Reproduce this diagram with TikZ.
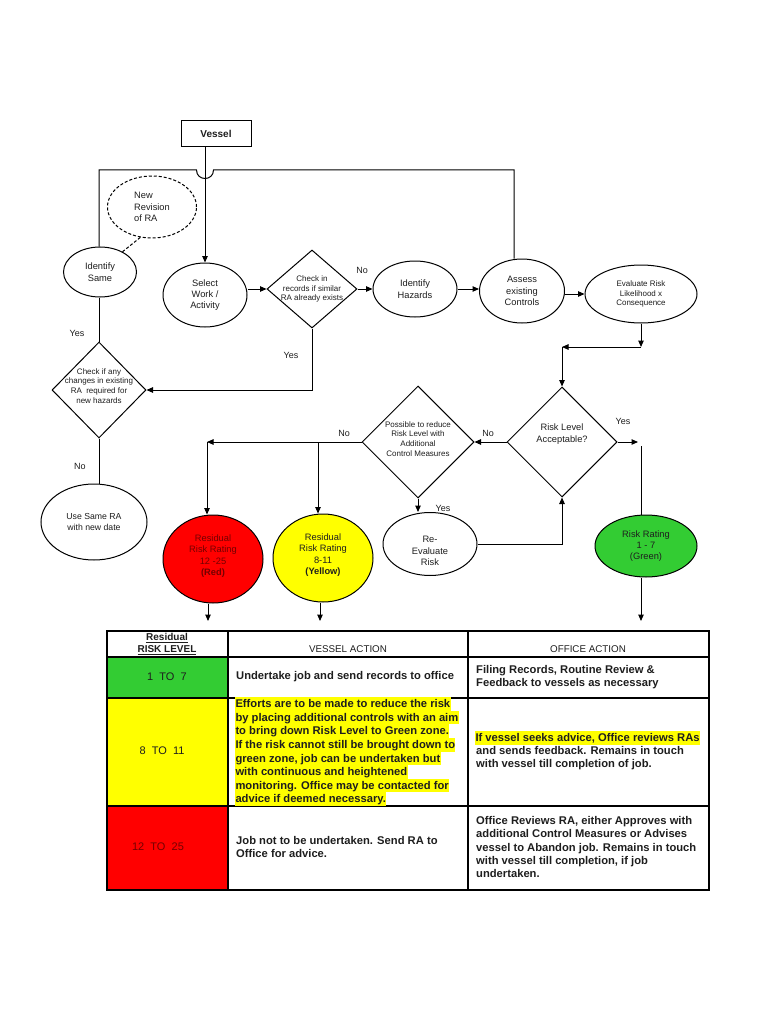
\documentclass[tikz,border=0pt]{standalone}
\usepackage{fontspec}
\setmainfont{Liberation Sans}
\usetikzlibrary{shapes.geometric,arrows.meta}
\definecolor{fgreen}{RGB}{51,204,51}
\definecolor{fyellow}{RGB}{255,255,0}
\definecolor{fred}{RGB}{255,0,0}
\definecolor{dred}{RGB}{115,0,0}
\definecolor{ink}{RGB}{30,30,30}
\begin{document}
\begin{tikzpicture}[x=1pt,y=-1pt,
  shp/.style={draw, line width=1pt, inner sep=0pt},
  ell/.style={shp, ellipse},
  dia/.style={shp, diamond},
  ftxt/.style={font=\fontsize{9.3}{11.4}\selectfont, align=center, text=ink},
  stxt/.style={font=\fontsize{8}{9.9}\selectfont, align=center, text=ink},
  ln/.style={line width=1pt},
  arr/.style={line width=1pt, -{Triangle[length=6.5pt,width=5.5pt]}},
  yn/.style={font=\fontsize{9}{11}\selectfont, text=ink, inner sep=0pt},
  tline/.style={line width=1.3pt},
  bt/.style={font=\bfseries\fontsize{11.2}{13.4}\selectfont, text=ink, align=left, inner sep=0pt},
  rt/.style={font=\fontsize{11}{13}\selectfont, text=ink, inner sep=0pt},
  hl/.style={bt, fill=fyellow, anchor=west, inner xsep=0.3pt, text height=10.4pt, text depth=3.2pt},
  hdr/.style={font=\bfseries\fontsize{10}{11.8}\selectfont, text=ink, align=center, inner sep=0pt},
  hdrn/.style={font=\fontsize{9.8}{11.8}\selectfont, text=ink, inner sep=0pt}
]
\useasboundingbox (0,0) rectangle (768,1024);
\fill[white] (0,0) rectangle (768,1024);

% ---------- flowchart nodes ----------
\node[draw, line width=1pt, minimum width=70pt, minimum height=26pt, inner sep=0pt,
      font=\bfseries\fontsize{10}{12}\selectfont, text=ink] (vessel) at (216,134) {Vessel};
\node[ell, minimum width=73pt, minimum height=50pt, ftxt] (idsame) at (100,272) {Identify\\Same};
\node[ell, dash pattern=on 3pt off 2pt, minimum width=89pt, minimum height=62pt, ftxt, align=left] (newrev) at (152,207) {New\\Revision\\of RA};
\node[ell, minimum width=84pt, minimum height=64pt, ftxt] (sel) at (205,295) {Select\\Work /\\Activity};
\node[dia, minimum width=90pt, minimum height=78pt,
      label={[stxt]center:{Check in\\records if similar\\RA already exists}}] (chk) at (312,289) {};
\node[ell, minimum width=84pt, minimum height=56pt, ftxt] (haz) at (415,289) {Identify\\Hazards};
\node[ell, minimum width=85pt, minimum height=64pt, ftxt] (assess) at (522,291) {Assess\\existing\\Controls};
\node[ell, minimum width=112pt, minimum height=58pt, stxt] (evalr) at (641,294) {Evaluate Risk\\Likelihood x\\Consequence};
\node[dia, minimum width=110pt, minimum height=110pt,
      label={[ftxt,yshift=8pt]center:{Risk Level\\Acceptable?}}] (acc) at (562,442) {};
\node[dia, minimum width=112pt, minimum height=112pt,
      label={[stxt,yshift=3pt]center:{Possible to reduce\\Risk Level with\\Additional\\Control Measures}}] (poss) at (418,442) {};
\node[ell, minimum width=94pt, minimum height=63pt,
      label={[ftxt,yshift=-7pt]center:{Re-\\Evaluate\\Risk}}] (reev) at (430,544) {};
\node[ell, fill=fgreen, minimum width=102pt, minimum height=62pt, ftxt] (green) at (646,546) {Risk Rating\\1 - 7\\(Green)};
\node[ell, fill=fred, minimum width=100pt, minimum height=88pt,
      label={[ftxt,text=dred,yshift=3pt]center:{Residual\\Risk Rating\\12 -25\\\textbf{(Red)}}}] (red) at (213,559) {};
\node[ell, fill=fyellow, minimum width=100pt, minimum height=88pt,
      label={[ftxt,yshift=3pt]center:{Residual\\Risk Rating\\8-11\\\textbf{(Yellow)}}}] (yel) at (323,558) {};
\node[dia, minimum width=94pt, minimum height=96pt,
      label={[stxt,yshift=4pt]center:{Check if any\\changes in existing\\RA\ \ required for\\new hazards}}] (chg) at (99,390) {};
\node[ell, minimum width=106pt, minimum height=76pt, font=\fontsize{8.7}{11}\selectfont, align=center, text=ink] (usesame) at (94,522) {Use Same RA\\with new date};

% ---------- junction coordinates ----------
\coordinate (tl) at (99,170);
\coordinate (tr) at (514,170);
\coordinate (hopR) at (213.5,170);
\coordinate (hopL) at (196.5,170);
\coordinate (j1) at (641,347);
\coordinate (j2) at (562,347);
\coordinate (j3) at (638,442);
\coordinate (j3b) at (641,446);
\coordinate (j4) at (207,442);
\coordinate (j5) at (318,442);
\coordinate (gend) at (641,621);
\coordinate (rend) at (208,621);
\coordinate (yend) at (320,621);

% ---------- connectors ----------
\draw[arr] (vessel.south -| sel.north) -- (sel.north);
\draw[ln] ([xshift=-8pt]assess.north) -- (tr) -- (hopR)
   .. controls (213.5,181.3) and (196.5,181.3) .. (hopL) -- (tl) -- (tl |- idsame.north);
\draw[ln] (idsame.south -| tl) -- (chg.north);
\draw[ln, dash pattern=on 3pt off 2pt] (newrev.249) -- (idsame.42);
\draw[arr] (sel.east |- chk.west) -- (chk.west);
\draw[arr] (chk.east) -- (haz.west);
\draw[arr] (haz.east) -- (haz.east -| assess.west);
\draw[arr] (assess.east |- evalr.west) -- (evalr.west);
\draw[arr] (evalr.south) -- (j1);
\draw[arr] (j1) -- (j2);
\draw[arr] (j2) -- (acc.north);
\draw[arr] (chk.south) -- (chk.south |- chg.east) -- (chg.east);
\draw[ln] (chg.south) -- (chg.south |- usesame.north);
\draw[arr] (acc.west) -- (poss.east);
\draw[arr] (acc.east) -- (j3);
\draw[ln] (j3b) -- (green.north -| j3b);
\draw[arr] (green.south -| gend) -- (gend);
\draw[arr] (poss.west) -- (j4);
\draw[arr] (j4) -- (j4 |- red.north);
\draw[arr] (j5) -- (j5 |- yel.north);
\draw[arr] (poss.south) -- (poss.south |- reev.north);
\draw[arr] (reev.east) -- (acc.south |- reev.east) -- (acc.south);
\draw[arr] (red.south -| rend) -- (rend);
\draw[arr] (yel.south -| yend) -- (yend);

% ---------- yes / no labels ----------
\node[yn] (l1) at (77,333) {Yes};
\node[yn] (l2) at (362,270) {No};
\node[yn] (l3) at (291,355) {Yes};
\node[yn] (l4) at (80,466) {No};
\node[yn] (l5) at (623,421) {Yes};
\node[yn] (l6) at (488,433) {No};
\node[yn] (l7) at (344,433) {No};
\node[yn] (l8) at (443,508) {Yes};

% ---------- table ----------
\fill[fgreen] (107,657) rectangle (228,698);
\fill[fyellow] (107,698) rectangle (228,806);
\fill[fred] (107,806) rectangle (228,890);
\draw[tline] (107,631) rectangle (709,890);
\draw[tline] (107,657) -- (709,657);
\draw[tline] (107,698) -- (709,698);
\draw[tline] (107,806) -- (709,806);
\draw[tline] (228,631) -- (228,890);
\draw[tline] (468,631) -- (468,890);

\node[hdr] (h1) at (167,644) {\underline{Residual}\\\underline{RISK LEVEL}};
\node[hdrn] (h2) at (348,649) {VESSEL ACTION};
\node[hdrn] (h3) at (588,649) {OFFICE ACTION};

\node[rt] (r1) at (167,677) {1\ \ TO\ \ 7};
\node[rt] (r2) at (162,751) {8\ \ TO\ \ 11};
\node[rt, text=dred] (r3) at (158,847) {12\ \ TO\ \ 25};

\node[bt, anchor=west] (v1) at (236,677) {Undertake job and send records to office};
\node[hl] (va) at (235,704) {Efforts are to be made to reduce the risk};
\node[hl] (vb) at (235,717.6) {by placing additional controls with an aim};
\node[hl] (vc) at (235,731.2) {to bring down Risk Level to Green zone.};
\node[hl] (vd) at (235,744.8) {If the risk cannot still be brought down to};
\node[hl] (ve) at (235,758.4) {green zone, job can be undertaken but};
\node[hl] (vf) at (235,772) {with continuous and heightened};
\node[hl] (vg) at (235,785.6) {monitoring. Office may be contacted for};
\node[hl] (vh) at (235,799.2) {advice if deemed necessary.};
\node[bt, anchor=west] (v3) at (236,847) {Job not to be undertaken. Send RA to\\Office for advice.};

\node[bt, anchor=west] (o1) at (476,677) {Filing Records, Routine Review \&\\Feedback to vessels as necessary};
\node[hl] (o2a) at (475,738) {If vessel seeks advice, Office reviews RAs};
\node[bt, anchor=west] (o2b) at (476,758) {and sends feedback. Remains in touch\\with vessel till completion of job.};
\node[bt, anchor=west] (o3) at (476,847) {Office Reviews RA, either Approves with\\additional Control Measures or Advises\\vessel to Abandon job. Remains in touch\\with vessel till completion, if job\\undertaken.};
\end{tikzpicture}
\end{document}
